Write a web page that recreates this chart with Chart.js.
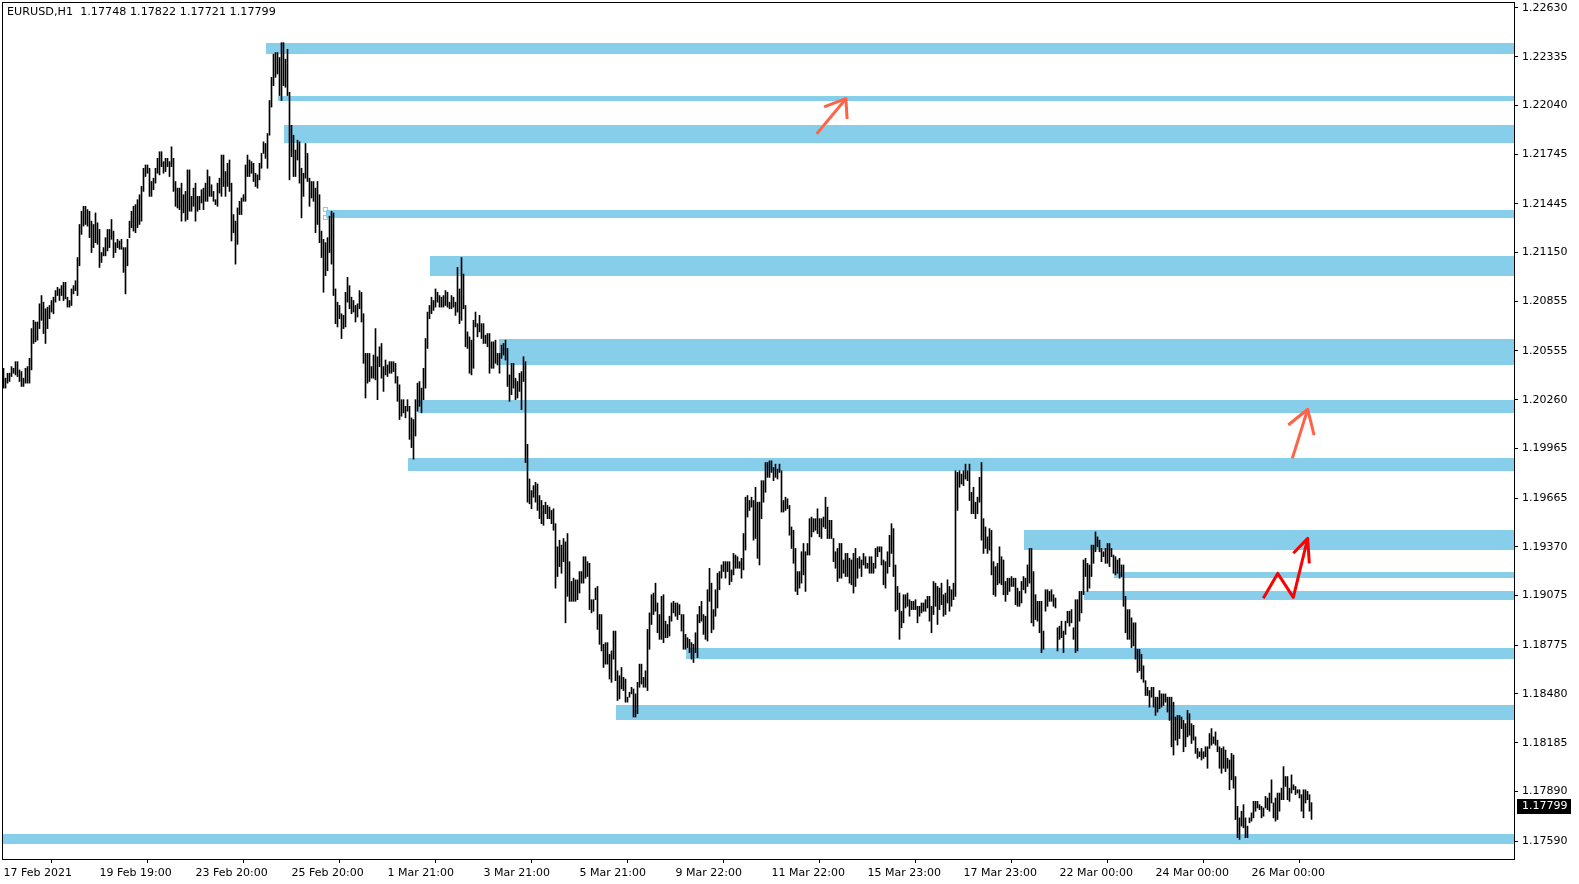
<!DOCTYPE html>
<html>
<head>
<meta charset="utf-8">
<title>EURUSD,H1</title>
<script src="https://cdn.jsdelivr.net/npm/chart.js@4.4.1/dist/chart.umd.min.js"></script>
<style>
    html, body { margin: 0; padding: 0; background: #fff; }
    canvas { display: block; }
</style>
</head>
<body>
<canvas id="js--chart" width="1579" height="884"></canvas>
<script>
const symbol = "EURUSD,H1";
const lastBar = [1.17748, 1.17822, 1.17721, 1.17799]; // open, high, low, close

// hourly bars, one value per bar
const highs = [
    1.2045, 1.2039, 1.2042, 1.2042, 1.2046, 1.2045, 1.2049, 1.2049, 1.2044, 1.2043,
    1.2039, 1.2045, 1.2046, 1.2051, 1.2069, 1.2074, 1.2073, 1.2073, 1.2084, 1.2089,
    1.2085, 1.2081, 1.2082, 1.2083, 1.2086, 1.2088, 1.2092, 1.2094, 1.2093, 1.2095,
    1.2097, 1.2097, 1.2088, 1.2086, 1.2093, 1.2095, 1.2098, 1.2112, 1.2132, 1.2140,
    1.2143, 1.2143, 1.2141, 1.2140, 1.2134, 1.2132, 1.2139, 1.2133, 1.2129, 1.2115,
    1.2118, 1.2124, 1.2129, 1.2129, 1.2135, 1.2128, 1.2121, 1.2123, 1.2122, 1.2123,
    1.2118, 1.2118, 1.2123, 1.2134, 1.2140, 1.2143, 1.2144, 1.2147, 1.2150, 1.2155,
    1.2166, 1.2168, 1.2168, 1.2166, 1.2158, 1.2160, 1.2166, 1.2172, 1.2176, 1.2176,
    1.2170, 1.2172, 1.2172, 1.2170, 1.2179, 1.2172, 1.2158, 1.2154, 1.2154, 1.2157,
    1.2150, 1.2152, 1.2165, 1.2165, 1.2149, 1.2154, 1.2157, 1.2149, 1.2149, 1.2153,
    1.2154, 1.2157, 1.2165, 1.2161, 1.2156, 1.2152, 1.2147, 1.2157, 1.2160, 1.2174,
    1.2174, 1.2164, 1.2169, 1.2171, 1.2157, 1.2138, 1.2134, 1.2142, 1.2146, 1.2148,
    1.2150, 1.2168, 1.2174, 1.2171, 1.2170, 1.2169, 1.2163, 1.2162, 1.2169, 1.2175,
    1.2182, 1.2181, 1.2187, 1.2207, 1.2221, 1.2235, 1.2236, 1.2236, 1.2233, 1.2242,
    1.2242, 1.2232, 1.2238, 1.2212, 1.2192, 1.2186, 1.2177, 1.2183, 1.2182, 1.2166,
    1.2163, 1.2181, 1.2175, 1.2160, 1.2158, 1.2158, 1.2154, 1.2158, 1.2150, 1.2128,
    1.2123, 1.2121, 1.2124, 1.2137, 1.2140, 1.2139, 1.2093, 1.2085, 1.2083, 1.2078,
    1.2077, 1.2091, 1.2100, 1.2095, 1.2088, 1.2086, 1.2083, 1.2084, 1.2092, 1.2091,
    1.2078, 1.2054, 1.2054, 1.2054, 1.2046, 1.2053, 1.2069, 1.2052, 1.2058, 1.2060,
    1.2046, 1.2050, 1.2047, 1.2049, 1.2049, 1.2049, 1.2048, 1.2040, 1.2035, 1.2026,
    1.2026, 1.2022, 1.2026, 1.2022, 1.2015, 1.2014, 1.2026, 1.2036, 1.2037, 1.2033,
    1.2045, 1.2063, 1.2079, 1.2083, 1.2088, 1.2086, 1.2093, 1.2091, 1.2089, 1.2088,
    1.2089, 1.2092, 1.2091, 1.2085, 1.2089, 1.2088, 1.2085, 1.2106, 1.2093, 1.2112,
    1.2102, 1.2083, 1.2067, 1.2064, 1.2062, 1.2074, 1.2079, 1.2072, 1.2077, 1.2072,
    1.2072, 1.2065, 1.2066, 1.2066, 1.2061, 1.2061, 1.2062, 1.2054, 1.2054, 1.2059,
    1.2060, 1.2062, 1.2057, 1.2041, 1.2048, 1.2048, 1.2039, 1.2037, 1.2042, 1.2043,
    1.2052, 1.2049, 1.1999, 1.1978, 1.1971, 1.1974, 1.1976, 1.1975, 1.1968, 1.1965,
    1.1962, 1.1964, 1.1962, 1.1961, 1.1959, 1.1960, 1.1951, 1.1937, 1.1941, 1.1938,
    1.1942, 1.1940, 1.1945, 1.1928, 1.1916, 1.1918, 1.1917, 1.1917, 1.1922, 1.1922,
    1.1931, 1.1931, 1.1928, 1.1927, 1.1905, 1.1905, 1.1912, 1.1913, 1.1896, 1.1896,
    1.1878, 1.1879, 1.1879, 1.1872, 1.1874, 1.1886, 1.1886, 1.1862, 1.1859, 1.1864,
    1.1858, 1.1857, 1.1846, 1.1849, 1.1852, 1.1851, 1.1848, 1.1855, 1.1866, 1.1866,
    1.1858, 1.1862, 1.1887, 1.1897, 1.1908, 1.1909, 1.1915, 1.1903, 1.1896, 1.1907,
    1.1908, 1.1892, 1.1890, 1.1895, 1.1903, 1.1904, 1.1903, 1.1903, 1.1902, 1.1896,
    1.1896, 1.1884, 1.1882, 1.1881, 1.1879, 1.1878, 1.1885, 1.1896, 1.1901, 1.1904,
    1.1896, 1.1895, 1.1911, 1.1924, 1.1915, 1.1899, 1.1911, 1.1921, 1.1922, 1.1926,
    1.1928, 1.1928, 1.1928, 1.1928, 1.1923, 1.1933, 1.1932, 1.1931, 1.1928, 1.1930,
    1.1945, 1.1967, 1.1968, 1.1965, 1.1967, 1.1965, 1.1973, 1.1964, 1.1964, 1.1977,
    1.1977, 1.1988, 1.1988, 1.1989, 1.1989, 1.1985, 1.1987, 1.1984, 1.1987, 1.1983,
    1.1965, 1.1967, 1.1966, 1.1962, 1.1949, 1.1947, 1.1936, 1.1922, 1.1922, 1.1934,
    1.1939, 1.1934, 1.1939, 1.1954, 1.1955, 1.1954, 1.1954, 1.1960, 1.1954, 1.1954,
    1.1955, 1.1967, 1.1961, 1.1953, 1.1953, 1.1942, 1.1934, 1.1936, 1.1939, 1.1939,
    1.1929, 1.1933, 1.1933, 1.1930, 1.1929, 1.1933, 1.1936, 1.1930, 1.1931, 1.1929,
    1.1933, 1.1931, 1.1927, 1.1931, 1.1931, 1.1927, 1.1936, 1.1937, 1.1937, 1.1937,
    1.1929, 1.1928, 1.1934, 1.1944, 1.1951, 1.1948, 1.1926, 1.1913, 1.1909, 1.1898,
    1.1908, 1.1908, 1.1909, 1.1905, 1.1904, 1.1904, 1.1905, 1.1901, 1.1901, 1.1903,
    1.1903, 1.1905, 1.1907, 1.1907, 1.1901, 1.1916, 1.1915, 1.1913, 1.1912, 1.1915,
    1.1908, 1.1909, 1.1917, 1.1913, 1.1911, 1.1915, 1.1983, 1.1982, 1.1983, 1.1981,
    1.1983, 1.1987, 1.1983, 1.1987, 1.1970, 1.1973, 1.1964, 1.1967, 1.1979, 1.1988,
    1.1954, 1.1949, 1.1943, 1.1948, 1.1947, 1.1928, 1.1925, 1.1927, 1.1937, 1.1931,
    1.1929, 1.1916, 1.1918, 1.1918, 1.1919, 1.1918, 1.1918, 1.1912, 1.1910, 1.1916,
    1.1919, 1.1918, 1.1926, 1.1936, 1.1936, 1.1922, 1.1908, 1.1904, 1.1904, 1.1904,
    1.1886, 1.1911, 1.1911, 1.1910, 1.1911, 1.1908, 1.1906, 1.1888, 1.1889, 1.1892,
    1.1886, 1.1892, 1.1898, 1.1898, 1.1899, 1.1888, 1.1905, 1.1905, 1.1910, 1.1910,
    1.1929, 1.1930, 1.1927, 1.1926, 1.1938, 1.1938, 1.1946, 1.1943, 1.1941, 1.1936,
    1.1934, 1.1936, 1.1939, 1.1939, 1.1936, 1.1932, 1.1931, 1.1929, 1.1930, 1.1926,
    1.1926, 1.1907, 1.1899, 1.1899, 1.1894, 1.1891, 1.1891, 1.1875, 1.1875, 1.1872,
    1.1865, 1.1856, 1.1852, 1.1850, 1.1852, 1.1852, 1.1846, 1.1846, 1.1850, 1.1848,
    1.1848, 1.1848, 1.1846, 1.1846, 1.1846, 1.1843, 1.1834, 1.1835, 1.1835, 1.1834,
    1.1832, 1.1830, 1.1838, 1.1836, 1.1830, 1.1829, 1.1822, 1.1815, 1.1813, 1.1815,
    1.1813, 1.1816, 1.1816, 1.1824, 1.1827, 1.1822, 1.1825, 1.1820, 1.1816, 1.1815,
    1.1816, 1.1814, 1.1809, 1.1808, 1.1812, 1.1811, 1.1798, 1.1780, 1.1773, 1.1777,
    1.1781, 1.1773, 1.1768, 1.1773, 1.1776, 1.1783, 1.1783, 1.1783, 1.1781, 1.1780,
    1.1779, 1.1786, 1.1785, 1.1788, 1.1796, 1.1782, 1.1785, 1.1788, 1.1788, 1.1791,
    1.1804, 1.1798, 1.1798, 1.1791, 1.1799, 1.1793, 1.1792, 1.1790, 1.1790, 1.1787,
    1.1790, 1.1790, 1.1789, 1.1787, 1.17822
];

const lows = [
    1.2033, 1.2033, 1.2036, 1.2037, 1.2040, 1.2042, 1.2041, 1.2040, 1.2037, 1.2034,
    1.2034, 1.2036, 1.2036, 1.2036, 1.2044, 1.2060, 1.2061, 1.2062, 1.2069, 1.2074,
    1.2066, 1.2060, 1.2069, 1.2075, 1.2079, 1.2078, 1.2085, 1.2089, 1.2086, 1.2089,
    1.2086, 1.2087, 1.2082, 1.2082, 1.2083, 1.2090, 1.2092, 1.2089, 1.2107, 1.2126,
    1.2131, 1.2132, 1.2131, 1.2124, 1.2115, 1.2118, 1.2121, 1.2120, 1.2106, 1.2109,
    1.2113, 1.2113, 1.2116, 1.2118, 1.2123, 1.2112, 1.2115, 1.2118, 1.2117, 1.2117,
    1.2103, 1.2090, 1.2107, 1.2124, 1.2130, 1.2128, 1.2127, 1.2130, 1.2132, 1.2134,
    1.2152, 1.2161, 1.2163, 1.2149, 1.2149, 1.2153, 1.2157, 1.2163, 1.2162, 1.2167,
    1.2163, 1.2164, 1.2167, 1.2161, 1.2167, 1.2152, 1.2143, 1.2142, 1.2141, 1.2134,
    1.2139, 1.2134, 1.2135, 1.2140, 1.2140, 1.2143, 1.2134, 1.2140, 1.2141, 1.2145,
    1.2141, 1.2146, 1.2146, 1.2149, 1.2149, 1.2146, 1.2144, 1.2143, 1.2151, 1.2149,
    1.2155, 1.2149, 1.2155, 1.2152, 1.2122, 1.2127, 1.2108, 1.2120, 1.2138, 1.2138,
    1.2146, 1.2146, 1.2161, 1.2161, 1.2163, 1.2158, 1.2155, 1.2154, 1.2159, 1.2166,
    1.2175, 1.2172, 1.2166, 1.2186, 1.2203, 1.2216, 1.2221, 1.2223, 1.2210, 1.2207,
    1.2216, 1.2215, 1.2210, 1.2159, 1.2173, 1.2161, 1.2161, 1.2171, 1.2157, 1.2136,
    1.2149, 1.2160, 1.2158, 1.2143, 1.2148, 1.2146, 1.2127, 1.2132, 1.2121, 1.2112,
    1.2091, 1.2101, 1.2104, 1.2115, 1.2108, 1.2089, 1.2072, 1.2070, 1.2075, 1.2063,
    1.2069, 1.2070, 1.2085, 1.2081, 1.2078, 1.2079, 1.2073, 1.2076, 1.2081, 1.2073,
    1.2048, 1.2027, 1.2036, 1.2037, 1.2039, 1.2039, 1.2038, 1.2026, 1.2046, 1.2039,
    1.2031, 1.2041, 1.2040, 1.2042, 1.2042, 1.2043, 1.2036, 1.2025, 1.2014, 1.2016,
    1.2018, 1.2015, 1.2019, 1.2002, 1.1997, 1.1990, 1.2004, 1.2019, 1.2022, 1.2018,
    1.2026, 1.2033, 1.2057, 1.2075, 1.2078, 1.2080, 1.2082, 1.2085, 1.2082, 1.2082,
    1.2082, 1.2083, 1.2082, 1.2081, 1.2081, 1.2082, 1.2077, 1.2079, 1.2072, 1.2074,
    1.2081, 1.2058, 1.2057, 1.2042, 1.2041, 1.2045, 1.2070, 1.2064, 1.2067, 1.2063,
    1.2060, 1.2060, 1.2058, 1.2042, 1.2045, 1.2045, 1.2048, 1.2047, 1.2042, 1.2051,
    1.2053, 1.2050, 1.2034, 1.2025, 1.2029, 1.2033, 1.2026, 1.2027, 1.2031, 1.2020,
    1.2037, 1.1988, 1.1964, 1.1963, 1.1960, 1.1967, 1.1964, 1.1959, 1.1954, 1.1951,
    1.1950, 1.1957, 1.1954, 1.1954, 1.1951, 1.1947, 1.1912, 1.1919, 1.1925, 1.1921,
    1.1928, 1.1891, 1.1907, 1.1904, 1.1904, 1.1904, 1.1904, 1.1905, 1.1909, 1.1915,
    1.1915, 1.1918, 1.1919, 1.1899, 1.1897, 1.1898, 1.1905, 1.1887, 1.1878, 1.1874,
    1.1864, 1.1866, 1.1866, 1.1857, 1.1855, 1.1869, 1.1856, 1.1844, 1.1845, 1.1851,
    1.1850, 1.1843, 1.1843, 1.1846, 1.1848, 1.1834, 1.1834, 1.1836, 1.1852, 1.1854,
    1.1852, 1.1852, 1.1850, 1.1875, 1.1890, 1.1896, 1.1898, 1.1885, 1.1881, 1.1881,
    1.1879, 1.1882, 1.1882, 1.1883, 1.1892, 1.1897, 1.1895, 1.1893, 1.1896, 1.1886,
    1.1875, 1.1875, 1.1876, 1.1873, 1.1869, 1.1867, 1.1873, 1.1870, 1.1891, 1.1892,
    1.1884, 1.1881, 1.1880, 1.1904, 1.1885, 1.1887, 1.1895, 1.1900, 1.1911, 1.1918,
    1.1922, 1.1918, 1.1922, 1.1914, 1.1916, 1.1920, 1.1924, 1.1924, 1.1924, 1.1918,
    1.1923, 1.1935, 1.1955, 1.1959, 1.1961, 1.1941, 1.1942, 1.1930, 1.1926, 1.1954,
    1.1964, 1.1970, 1.1979, 1.1979, 1.1982, 1.1977, 1.1979, 1.1978, 1.1982, 1.1958,
    1.1958, 1.1959, 1.1960, 1.1944, 1.1936, 1.1927, 1.1910, 1.1908, 1.1912, 1.1915,
    1.1920, 1.1910, 1.1932, 1.1932, 1.1943, 1.1946, 1.1947, 1.1945, 1.1943, 1.1942,
    1.1949, 1.1948, 1.1942, 1.1942, 1.1942, 1.1928, 1.1924, 1.1916, 1.1918, 1.1918,
    1.1921, 1.1919, 1.1919, 1.1915, 1.1914, 1.1909, 1.1913, 1.1918, 1.1924, 1.1919,
    1.1926, 1.1924, 1.1924, 1.1921, 1.1921, 1.1921, 1.1924, 1.1931, 1.1934, 1.1926,
    1.1914, 1.1912, 1.1921, 1.1925, 1.1933, 1.1919, 1.1898, 1.1899, 1.1881, 1.1888,
    1.1891, 1.1900, 1.1901, 1.1895, 1.1899, 1.1899, 1.1899, 1.1891, 1.1895, 1.1897,
    1.1898, 1.1898, 1.1900, 1.1892, 1.1885, 1.1896, 1.1901, 1.1890, 1.1899, 1.1902,
    1.1895, 1.1896, 1.1903, 1.1898, 1.1901, 1.1905, 1.1907, 1.1959, 1.1973, 1.1975,
    1.1974, 1.1978, 1.1977, 1.1965, 1.1957, 1.1957, 1.1954, 1.1957, 1.1964, 1.1941,
    1.1933, 1.1936, 1.1933, 1.1935, 1.1920, 1.1908, 1.1907, 1.1914, 1.1915, 1.1914,
    1.1908, 1.1904, 1.1908, 1.1910, 1.1913, 1.1913, 1.1902, 1.1901, 1.1901, 1.1903,
    1.1911, 1.1909, 1.1913, 1.1915, 1.1891, 1.1889, 1.1893, 1.1892, 1.1885, 1.1873,
    1.1875, 1.1898, 1.1901, 1.1904, 1.1904, 1.1901, 1.1900, 1.1874, 1.1881, 1.1882,
    1.1873, 1.1884, 1.1891, 1.1889, 1.1891, 1.1881, 1.1873, 1.1874, 1.1892, 1.1897,
    1.1908, 1.1919, 1.1910, 1.1912, 1.1919, 1.1927, 1.1934, 1.1937, 1.1934, 1.1928,
    1.1931, 1.1927, 1.1927, 1.1925, 1.1931, 1.1921, 1.1920, 1.1921, 1.1918, 1.1919,
    1.1901, 1.1885, 1.1881, 1.1881, 1.1876, 1.1877, 1.1869, 1.1861, 1.1862, 1.1857,
    1.1855, 1.1847, 1.1847, 1.1840, 1.1846, 1.1840, 1.1835, 1.1837, 1.1839, 1.1840,
    1.1841, 1.1843, 1.1837, 1.1832, 1.1816, 1.1811, 1.1820, 1.1817, 1.1821, 1.1827,
    1.1813, 1.1816, 1.1822, 1.1823, 1.1818, 1.1820, 1.1812, 1.1809, 1.1810, 1.1808,
    1.1809, 1.1810, 1.1803, 1.1815, 1.1817, 1.1818, 1.1817, 1.1813, 1.1803, 1.1800,
    1.1803, 1.1801, 1.1803, 1.1790, 1.1796, 1.1791, 1.1772, 1.1761, 1.1760, 1.1768,
    1.1767, 1.1761, 1.1761, 1.1770, 1.1771, 1.1773, 1.1777, 1.1779, 1.1778, 1.1773,
    1.1774, 1.1779, 1.1778, 1.1777, 1.1782, 1.1773, 1.1771, 1.1772, 1.1777, 1.1784,
    1.1784, 1.1792, 1.1784, 1.1783, 1.1788, 1.1790, 1.1787, 1.1788, 1.1785, 1.1777,
    1.1773, 1.1782, 1.1784, 1.1777, 1.17721
];

// time axis: label text and the bar it sits on
const timeLabels = ["17 Feb 2021", "19 Feb 19:00", "23 Feb 20:00", "25 Feb 20:00", "1 Mar 21:00",
    "3 Mar 21:00", "5 Mar 21:00", "9 Mar 22:00", "11 Mar 22:00", "15 Mar 23:00",
    "17 Mar 23:00", "22 Mar 00:00", "24 Mar 00:00", "26 Mar 00:00"];
const timeLabelBars = [0, 48, 96, 144, 192, 240, 288, 336, 384, 432, 480, 528, 576, 624];

const priceTicks = [1.22630, 1.22335, 1.22040, 1.21745, 1.21445, 1.21150, 1.20855, 1.20555, 1.20260,
    1.19965, 1.19665, 1.19370, 1.19075, 1.18775, 1.18480, 1.18185, 1.17890, 1.17590];

// support / resistance zones: price band and the bar where each one starts
const zoneTop    = [1.2242, 1.2210, 1.2192, 1.2141, 1.2113, 1.2063, 1.2026, 1.1991, 1.1947, 1.1922, 1.1910, 1.1876, 1.1841, 1.1763];
const zoneBottom = [1.2235, 1.2207, 1.2181, 1.2136, 1.2101, 1.2047, 1.2018, 1.1983, 1.1935, 1.1918, 1.1905, 1.1869, 1.1832, 1.1757];
const zoneStart  = [131, 137, 140, 161, 213, 248, 207, 202, 510, 555, 540, 341, 306, -1];
const selectedZone = 3;

// hand drawn arrows as [bar, price] points
const arrowUp1 = { shaft: [[406.6, 1.21868], [421.2, 1.22081]], head: [[410.3, 1.22031], [421.2, 1.22081], [421.8, 1.21958]], color: "#ff6347" };
const arrowUp2 = { shaft: [[644.4, 1.19905], [652.1, 1.20202]], head: [[642.4, 1.20107], [652.1, 1.20202], [655.3, 1.20046]], color: "#ff6347" };
const zigzag   = { shaft: [[629.9, 1.19058], [637.1, 1.19209], [644.9, 1.19064], [652.1, 1.19421]], head: [[644.9, 1.19331], [652.1, 1.19421], [652.9, 1.19270]], color: "#ff0000" };
const arrows = [arrowUp1, arrowUp2, zigzag];

const font = "DejaVu Sans";

const zonesPlugin = {
    id: "zones",
    beforeDatasetsDraw(chart) {
        const { ctx, chartArea, scales: { x, y } } = chart;
        ctx.save();
        ctx.beginPath();
        ctx.rect(chartArea.left, chartArea.top, chartArea.right - chartArea.left, chartArea.bottom - chartArea.top);
        ctx.clip();
        ctx.fillStyle = "#87ceeb";
        for (let i = 0; i < zoneTop.length; i++) {
            const x0 = Math.round(x.getPixelForValue(zoneStart[i]));
            const y0 = Math.round(y.getPixelForValue(zoneTop[i]));
            const y1 = Math.round(y.getPixelForValue(zoneBottom[i]));
            ctx.fillRect(x0, y0, chartArea.right - x0, y1 - y0);
        }
        // anchor squares of the selected zone
        const sx = Math.round(x.getPixelForValue(zoneStart[selectedZone]));
        ctx.strokeStyle = "#87ceeb";
        ctx.lineWidth = 1;
        [zoneTop[selectedZone], zoneBottom[selectedZone]].forEach((p) => {
            const sy = Math.round(y.getPixelForValue(p));
            ctx.strokeRect(sx - 2.5, sy - 2.5, 4, 4);
        });
        ctx.restore();
    }
};

const arrowsPlugin = {
    id: "arrows",
    afterDatasetsDraw(chart) {
        const { ctx, scales: { x, y } } = chart;
        const line = (pts) => {
            ctx.beginPath();
            pts.forEach(([b, p], i) => {
                const px = x.getPixelForValue(b);
                const py = y.getPixelForValue(p);
                if (i === 0) ctx.moveTo(px, py); else ctx.lineTo(px, py);
            });
            ctx.stroke();
        };
        ctx.save();
        ctx.lineWidth = 3;
        ctx.lineJoin = "round";
        ctx.lineCap = "butt";
        arrows.forEach((a) => {
            ctx.strokeStyle = a.color;
            line(a.shaft);
            line(a.head);
        });
        ctx.restore();
    }
};

const framePlugin = {
    id: "frame",
    afterDraw(chart) {
        const { ctx, chartArea, scales: { y } } = chart;
        ctx.save();
        ctx.strokeStyle = "#000";
        ctx.lineWidth = 1;
        ctx.strokeRect(chartArea.left + 0.5, chartArea.top - 0.5, chartArea.right - chartArea.left, chartArea.bottom - chartArea.top + 1);

        ctx.fillStyle = "#000";
        ctx.font = "11.2px '" + font + "'";
        ctx.textBaseline = "middle";
        ctx.textAlign = "left";
        ctx.fillText(symbol + "  " + lastBar.map((v) => v.toFixed(5)).join(" "), 7, 12.5);

        // current price marker on the price axis
        ctx.font = "11px '" + font + "'";
        const py = Math.round(y.getPixelForValue(lastBar[3]));
        ctx.fillRect(chartArea.right + 3, py - 7, 54, 15);
        ctx.fillStyle = "#fff";
        ctx.fillText(lastBar[3].toFixed(5), chartArea.right + 8, py + 0.5);
        ctx.restore();
    }
};

const data = {
    datasets: [
        {
            label: symbol,
            data: highs.map((h, i) => ({ x: i, y: [lows[i], h] })),
            backgroundColor: "#000",
            borderWidth: 0,
            barThickness: 1,
            grouped: false
        }
    ]
};

const config = {
    type: "bar",
    data: data,
    options: {
        responsive: false,
        animation: false,
        devicePixelRatio: 1,
        layout: { padding: { left: 2, top: 3, right: 0, bottom: 0 } },
        plugins: {
            legend: { display: false },
            tooltip: { enabled: false }
        },
        scales: {
            x: {
                type: "linear",
                min: -0.75,
                max: 755.25,
                offset: false,
                border: { display: false },
                grid: { display: true, drawOnChartArea: false, drawTicks: true, tickLength: 4, color: "#000" },
                afterBuildTicks: (s) => { s.ticks = timeLabelBars.map((v) => ({ value: v })); },
                afterFit: (s) => {
                    s.height = 25;
                    s.paddingLeft = 0;
                    s.paddingRight = 0;
                },
                ticks: {
                    autoSkip: false,
                    maxRotation: 0,
                    minRotation: 0,
                    align: "start",
                    padding: 4,
                    color: "#000",
                    font: { family: font, size: 11 },
                    callback: (v, i) => timeLabels[i]
                }
            },
            y: {
                type: "linear",
                position: "right",
                min: 1.174811,
                max: 1.226599,
                border: { display: false },
                grid: { display: true, drawOnChartArea: false, drawTicks: true, tickLength: 4, color: "#000" },
                afterBuildTicks: (s) => { s.ticks = priceTicks.map((v) => ({ value: v })); },
                afterFit: (s) => {
                    s.width = 65;
                    s.paddingTop = 0;
                    s.paddingBottom = 0;
                },
                ticks: {
                    padding: 4,
                    color: "#000",
                    font: { family: font, size: 11 },
                    callback: (v) => v.toFixed(5)
                }
            }
        }
    },
    plugins: [zonesPlugin, arrowsPlugin, framePlugin]
};

const chart = new Chart(document.getElementById("js--chart"), config);
</script>
</body>
</html>
